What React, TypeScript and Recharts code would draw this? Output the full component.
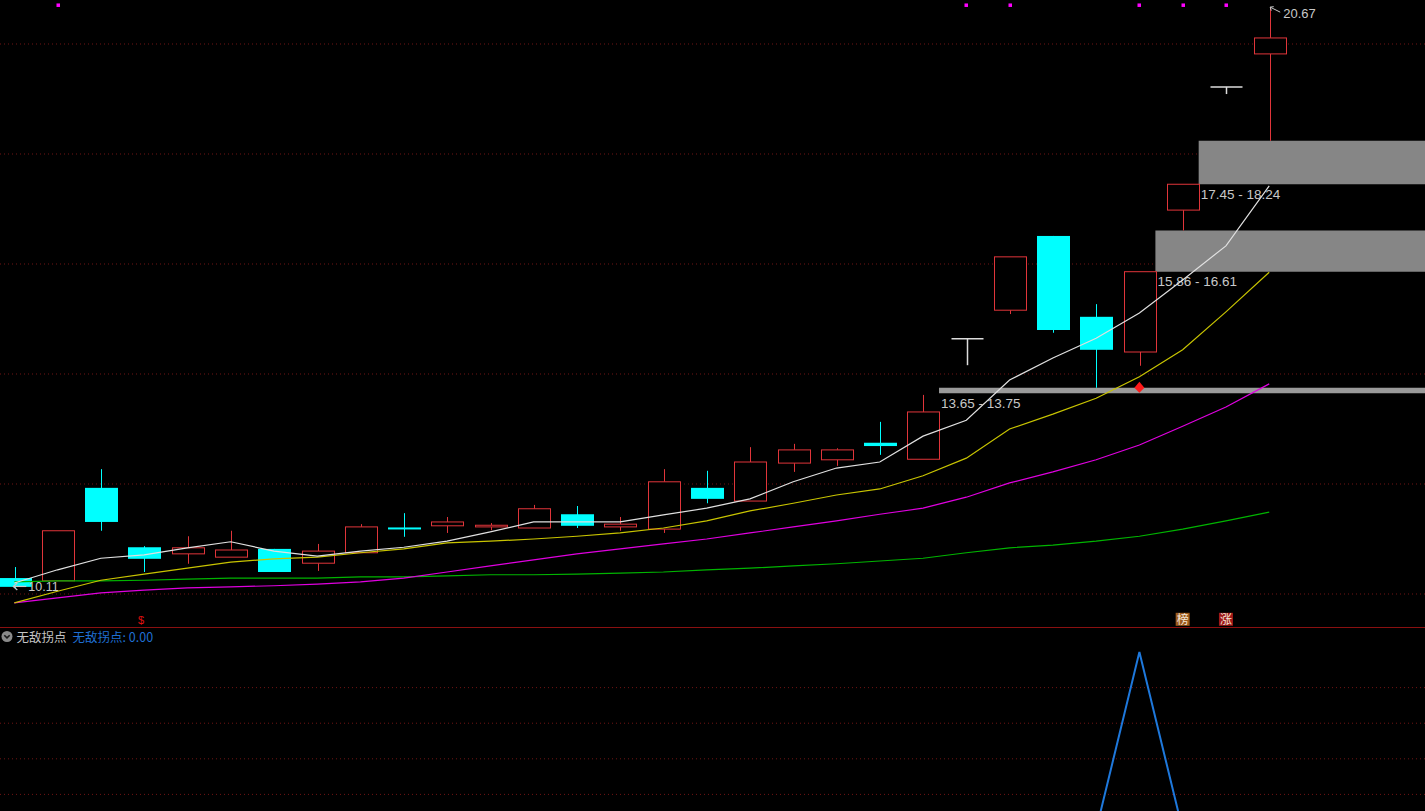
import React from 'react';
import { ComposedChart, Bar, Line, XAxis, YAxis, ReferenceArea, ReferenceDot, CartesianGrid } from 'recharts';

// ---------- data ----------
const candleIdx = [1, 2, 3, 4, 5, 6, 7, 8, 9, 10, 11, 12, 13, 14, 15, 16, 17, 18, 19, 20, 21, 22, 23, 24, 25, 26, 27, 28, 29, 30];
const opens = [10.29, 10.24, 11.93, 10.85, 10.73, 10.67, 10.82, 10.56, 10.75, 11.21, 11.24, 11.22, 11.2, 11.45, 11.22, 11.18, 11.93, 11.69, 12.38, 12.44, 12.75, 12.45, 14.64, 15.16, 16.51, 15.04, 14.4, 16.98, 19.22, 19.82];
const highs = [10.49, 11.15, 12.27, 10.87, 11.05, 11.15, 10.82, 10.91, 11.27, 11.47, 11.4, 11.29, 11.62, 11.6, 11.4, 12.27, 12.24, 12.67, 12.73, 12.65, 13.13, 13.62, 14.64, 16.13, 16.51, 15.27, 15.86, 17.45, 19.22, 20.67];
const lows = [10.11, 10.24, 11.15, 10.4, 10.55, 10.67, 10.4, 10.42, 10.75, 11.04, 11.11, 11.16, 11.2, 11.2, 11.15, 11.11, 11.65, 11.69, 12.22, 12.33, 12.53, 12.45, 14.16, 15.09, 14.75, 13.75, 14.15, 16.61, 19.09, 18.24];
const closes = [10.13, 11.15, 11.31, 10.64, 10.84, 10.8, 10.4, 10.78, 11.22, 11.19, 11.31, 11.25, 11.55, 11.24, 11.27, 12.04, 11.73, 12.4, 12.62, 12.62, 12.69, 13.31, 14.64, 16.13, 14.8, 14.44, 15.86, 17.45, 19.22, 20.11];
const ma5 = [10.2, 10.44, 10.65, 10.71, 10.84, 10.95, 10.78, 10.69, 10.78, 10.85, 10.96, 11.13, 11.31, 11.31, 11.31, 11.44, 11.56, 11.73, 12.04, 12.29, 12.4, 12.87, 13.16, 13.89, 14.29, 14.65, 15.11, 15.71, 16.33, 17.42];
const ma10 = [9.84, 10.05, 10.25, 10.36, 10.47, 10.58, 10.64, 10.67, 10.75, 10.82, 10.93, 10.96, 11.0, 11.05, 11.11, 11.2, 11.33, 11.51, 11.65, 11.8, 11.91, 12.15, 12.47, 13.0, 13.27, 13.56, 13.95, 14.44, 15.13, 15.85];
const ma20 = [9.84, 9.93, 10.02, 10.07, 10.11, 10.13, 10.15, 10.18, 10.22, 10.29, 10.4, 10.51, 10.62, 10.73, 10.82, 10.91, 11.0, 11.11, 11.22, 11.33, 11.45, 11.56, 11.76, 12.02, 12.22, 12.44, 12.71, 13.05, 13.4, 13.82];
const ma60 = [10.22, 10.24, 10.24, 10.25, 10.27, 10.29, 10.29, 10.29, 10.31, 10.31, 10.33, 10.35, 10.35, 10.36, 10.38, 10.4, 10.44, 10.47, 10.51, 10.55, 10.6, 10.65, 10.75, 10.84, 10.89, 10.96, 11.05, 11.18, 11.33, 11.49];
const turnValues = [0, 0, 0, 0, 0, 0, 0, 0, 0, 0, 0, 0, 0, 0, 0, 0, 0, 0, 0, 0, 0, 0, 0, 0, 0, 0, 100, 0, 0, 0];

const zoneStartCandle = [22, 27, 28];
const zoneLow = [13.65, 15.86, 17.45];
const zoneHigh = [13.75, 16.61, 18.24];
const topSignalCandles = [2, 23, 24, 27, 28, 29];
const topSignalLevel = 20.71;
const markerCandles = [4, 28, 29];
const markerTexts = ['$', '榜', '涨'];
const markerLevel = 9.54;
const diamondCandle = 27;
const diamondPrice = 13.75;
const highLabelCandle = 30;
const highLabelPrice = 20.67;
const lowLabelCandle = 1;
const lowLabelPrice = 10.11;
const priceGrid = [10, 12, 14, 16, 18, 20];
const subGrid = [20, 40, 60, 80];
const indicatorName = '无敌拐点';

// ---------- layout / style ----------
const W = 1425;
const MAIN_H = 627;
const SUB_TOP = 628;
const SUB_H = 210;
const X_DOMAIN: [number, number] = [0.6695, 33.6];
const Y_DOMAIN: [number, number] = [9.4, 20.8];
const SUB_DOMAIN: [number, number] = [-4.5, 113.5];
const BODY_W = 32;
const RED = '#e0353a';
const CYAN = '#00ffff';
const DOJI = '#dcdcdc';
const GRID = '#701414';
const LABEL = '#c8c8c8';
const NUMFONT = '"Liberation Sans", Arial, sans-serif';
const CJKFONT = '"Noto Sans CJK SC", "Noto Sans", sans-serif';

const rows = candleIdx.map((i, k) => ({
  i,
  open: opens[k],
  high: highs[k],
  low: lows[k],
  close: closes[k],
  ma5: ma5[k],
  ma10: ma10[k],
  ma20: ma20[k],
  ma60: ma60[k],
  turn: turnValues[k],
}));

function Candle(props: any) {
  const { x, y, width, height, payload } = props;
  if (!payload) return null;
  const { open, close, high, low } = payload;
  const top = Math.min(y, y + height);
  const h = Math.abs(height);
  const k = h / (high - low);
  const py = (v: number) => top + (high - v) * k;
  const cx = Math.round(x + width / 2) + 0.5;
  const yo = py(open);
  const yc = py(close);
  const yh = py(high);
  const yl = py(low);
  const bTop = Math.min(yo, yc);
  const bBot = Math.max(yo, yc);
  const left = cx - BODY_W / 2;
  if (close > open) {
    return (
      <g>
        {yh < bTop - 0.5 && <line x1={cx} x2={cx} y1={yh} y2={bTop} stroke={RED} strokeWidth={1} />}
        {yl > bBot + 0.5 && <line x1={cx} x2={cx} y1={bBot} y2={yl} stroke={RED} strokeWidth={1} />}
        <rect x={left} y={bTop} width={BODY_W} height={bBot - bTop} fill="#000" stroke={RED} strokeWidth={1} />
      </g>
    );
  }
  if (close < open) {
    return (
      <g>
        <line x1={cx} x2={cx} y1={yh} y2={yl} stroke={CYAN} strokeWidth={1} />
        <rect x={left - 0.5} y={bTop} width={BODY_W + 1} height={Math.max(bBot - bTop, 2)} fill={CYAN} />
      </g>
    );
  }
  return (
    <g>
      <line x1={cx} x2={cx} y1={yh} y2={yl} stroke={DOJI} strokeWidth={1.5} />
      <line x1={left} x2={left + BODY_W} y1={yo} y2={yo} stroke={DOJI} strokeWidth={1.5} />
    </g>
  );
}

function zoneLabel(lo: number, hi: number) {
  return (p: any) => {
    const vb = p.viewBox || {};
    return (
      <text x={vb.x + 2} y={vb.y + vb.height + 14.5} fill={LABEL} fontSize={13.5} fontFamily={NUMFONT}>
        {`${lo.toFixed(2)} - ${hi.toFixed(2)}`}
      </text>
    );
  };
}

const HighLabel = (p: any) => {
  const { cx, cy } = p;
  return (
    <g>
      <path d={`M${cx + 1},${cy} L${cx + 11},${cy + 5}`} stroke={LABEL} strokeWidth={1} fill="none" />
      <path d={`M${cx + 4.5},${cy - 0.5} L${cx + 1},${cy} L${cx + 2},${cy + 3.5}`} stroke={LABEL} strokeWidth={1} fill="none" />
      <text x={cx + 14} y={cy + 10.5} fill={LABEL} fontSize={13} fontFamily={NUMFONT}>
        {highLabelPrice.toFixed(2)}
      </text>
    </g>
  );
};

const LowLabel = (p: any) => {
  const { cx, cy } = p;
  const yy = cy - 1.5;
  return (
    <g>
      <path d={`M${cx - 1},${yy} L${cx + 12},${yy}`} stroke={LABEL} strokeWidth={1.2} fill="none" />
      <path d={`M${cx + 3},${yy - 3.5} L${cx - 1},${yy} L${cx + 3},${yy + 3.5}`} stroke={LABEL} strokeWidth={1.2} fill="none" />
      <text x={cx + 14} y={cy + 3.5} fill={LABEL} fontSize={12.5} fontFamily={NUMFONT}>
        {lowLabelPrice.toFixed(2)}
      </text>
    </g>
  );
};

const Diamond = (p: any) => {
  const { cx, cy } = p;
  return <path d={`M${cx},${cy - 6} L${cx + 5},${cy} L${cx},${cy + 5} L${cx - 5},${cy} Z`} fill="#ff1a1a" />;
};

const TopDot = (p: any) => {
  const { cx, cy } = p;
  return <rect x={Math.round(cx) - 1.5} y={cy - 1.5} width={3.5} height={3.5} fill="#ff00ff" />;
};

function makeMarker(t: string) {
  return (p: any) => {
    const { cx, cy } = p;
    if (t === '$') {
      return (
        <text x={cx - 3} y={cy + 5} fill="#e01010" fontSize={11} fontFamily={NUMFONT} textAnchor="middle">
          $
        </text>
      );
    }
    const bg = t === '榜' ? '#9c5a1c' : '#a01818';
    return (
      <g>
        <rect x={cx - 7} y={cy - 6.5} width={14} height={13} fill={bg} />
        <text x={cx} y={cy + 4.5} fill="#f4e6d8" fontSize={12} fontFamily={CJKFONT} textAnchor="middle">
          {t}
        </text>
      </g>
    );
  };
}

const lineCommon = { dot: false, activeDot: false, isAnimationActive: false, strokeWidth: 1.2 } as const;

export default function App() {
  return (
    <div style={{ position: 'fixed', left: 0, top: 0, width: W, height: 811, background: '#000', overflow: 'hidden' }}>
      <div style={{ position: 'absolute', left: 0, top: 0 }}>
        <ComposedChart width={W} height={MAIN_H} data={rows} margin={{ top: 0, right: 0, bottom: 0, left: 0 }}>
          <XAxis dataKey="i" type="number" domain={X_DOMAIN} allowDataOverflow hide />
          <YAxis type="number" domain={Y_DOMAIN} allowDataOverflow hide />
          <CartesianGrid
            vertical={false}
            horizontalValues={priceGrid}
            stroke={GRID}
            strokeDasharray="1 3"
            fill="none"
          />
          {zoneStartCandle.map((c, k) => (
            <ReferenceArea
              key={'z' + k}
              x1={c + BODY_W / 2 / 43.27}
              x2={X_DOMAIN[1]}
              y1={zoneLow[k]}
              y2={zoneHigh[k]}
              fill={k === 0 ? '#9a9a9a' : '#868686'}
              fillOpacity={1}
              stroke="none"
              ifOverflow="visible"
              label={zoneLabel(zoneLow[k], zoneHigh[k])}
            />
          ))}
          <Bar dataKey={(d: any) => [d.low, d.high]} barSize={BODY_W} shape={Candle} isAnimationActive={false} activeBar={false} />
          <Line dataKey="ma60" stroke="#00b400" {...lineCommon} />
          <Line dataKey="ma20" stroke="#e000e0" {...lineCommon} />
          <Line dataKey="ma10" stroke="#c8c400" {...lineCommon} />
          <Line dataKey="ma5" stroke="#e0e0e0" {...lineCommon} />
          <ReferenceDot x={diamondCandle} y={diamondPrice} r={5} shape={Diamond} ifOverflow="visible" />
          <ReferenceDot x={highLabelCandle} y={highLabelPrice} r={1} shape={HighLabel} ifOverflow="visible" />
          <ReferenceDot x={lowLabelCandle} y={lowLabelPrice} r={1} shape={LowLabel} ifOverflow="visible" />
          {topSignalCandles.map((c) => (
            <ReferenceDot key={'s' + c} x={c} y={topSignalLevel} r={2} shape={TopDot} ifOverflow="visible" />
          ))}
          {markerCandles.map((c, k) => (
            <ReferenceDot key={'m' + c} x={c} y={markerLevel} r={6} shape={makeMarker(markerTexts[k])} ifOverflow="visible" />
          ))}
        </ComposedChart>
      </div>
      <div style={{ position: 'absolute', left: 0, top: MAIN_H, width: W, height: 1, background: '#8a1010' }} />
      <div style={{ position: 'absolute', left: 0, top: SUB_TOP }}>
        <ComposedChart width={W} height={SUB_H} data={rows} margin={{ top: 0, right: 0, bottom: 0, left: 0 }}>
          <XAxis dataKey="i" type="number" domain={X_DOMAIN} allowDataOverflow hide />
          <YAxis type="number" domain={SUB_DOMAIN} allowDataOverflow hide />
          <CartesianGrid
            vertical={false}
            horizontalValues={subGrid}
            stroke={GRID}
            strokeDasharray="1 3"
            fill="none"
          />
          <Line dataKey="turn" stroke="#1e78dc" dot={false} activeDot={false} isAnimationActive={false} strokeWidth={2} />
        </ComposedChart>
      </div>
      <div
        style={{
          position: 'absolute',
          left: 0,
          top: 628,
          height: 17,
          display: 'flex',
          alignItems: 'center',
          fontFamily: CJKFONT,
          fontSize: 12.5,
          whiteSpace: 'nowrap',
        }}
      >
        <svg width={13} height={13} style={{ marginLeft: 0.5, marginRight: 3 }}>
          <circle cx={6} cy={6.5} r={5.5} fill="#8a8a8a" />
          <path d="M3.3,5.2 L6,7.9 L8.7,5.2" stroke="#1a1a1a" strokeWidth={1.6} fill="none" />
        </svg>
        <span style={{ color: '#c4c4c4' }}>{indicatorName}</span>
        <span style={{ color: '#1f6fd2', marginLeft: 6 }}>
          {indicatorName}: {turnValues[turnValues.length - 1].toFixed(2)}
        </span>
      </div>
    </div>
  );
}
